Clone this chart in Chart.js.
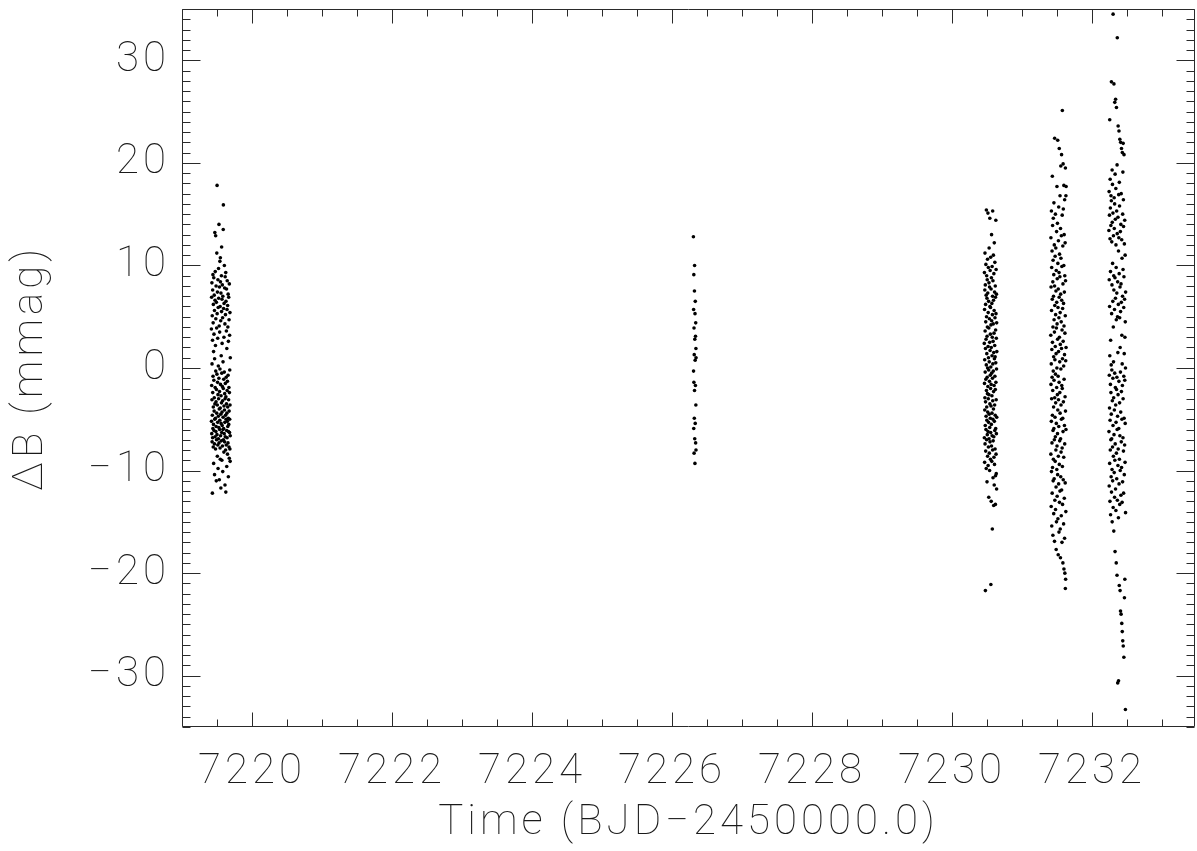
<!DOCTYPE html>
<html>
<head>
<meta charset="utf-8">
<script src="https://cdn.jsdelivr.net/npm/chart.js@4.4.1/dist/chart.umd.min.js"></script>
<style>
  html, body { margin: 0; padding: 0; background: #fff; }
  #wrap { width: 1197px; height: 851px; }
</style>
</head>
<body>
<div id="wrap"><canvas id="lc" width="1197" height="851"></canvas></div>
<script>
// [time (BJD-2450000), delta B (mmag)] per observing night
const night1 = [
  [7219.420,3.8],[7219.421,-5.2],[7219.423,6.9],[7219.424,-1.7],[7219.425,-6.4],[7219.427,8.3],[7219.428,-3.1],[7219.429,0.4],[7219.430,-7.2],[7219.432,5.1],
  [7219.433,-4.6],[7219.434,-12.2],[7219.436,2.7],[7219.437,-6.8],[7219.438,7.6],[7219.439,-2.4],[7219.441,-5.9],[7219.442,9.1],[7219.443,-0.8],[7219.445,4.4],
  [7219.446,-7.7],[7219.447,-3.8],[7219.448,6.2],[7219.450,-5.5],[7219.451,1.6],[7219.452,-9.3],[7219.454,8.8],[7219.455,-1.2],[7219.456,-6.1],[7219.457,3.3],
  [7219.459,-4.2],[7219.460,7.1],[7219.461,-2.9],[7219.463,-7.4],[7219.464,5.6],[7219.465,-10.4],[7219.466,0.9],[7219.468,-5.0],[7219.469,13.2],[7219.470,-3.5],
  [7219.472,6.6],[7219.473,-6.7],[7219.474,-1.9],[7219.475,9.4],[7219.477,-4.9],[7219.478,2.2],[7219.479,-7.9],[7219.481,12.9],[7219.482,-0.3],[7219.483,4.8],
  [7219.484,-6.2],[7219.486,-3.3],[7219.487,8.0],[7219.488,-5.7],[7219.490,-11.0],[7219.491,6.4],[7219.492,-2.1],[7219.493,-7.0],[7219.495,3.9],[7219.496,-4.4],
  [7219.497,11.2],[7219.499,-0.6],[7219.500,-6.5],[7219.501,17.8],[7219.502,5.3],[7219.504,-3.6],[7219.505,-8.6],[7219.506,7.4],[7219.508,-1.4],[7219.509,-5.3],
  [7219.510,2.9],[7219.511,-7.5],[7219.513,8.6],[7219.514,-2.6],[7219.515,-9.8],[7219.517,5.9],[7219.518,-4.7],[7219.519,0.2],[7219.520,-6.9],[7219.522,9.7],
  [7219.523,-3.0],[7219.524,6.8],[7219.526,-5.8],[7219.527,-1.0],[7219.528,14.0],[7219.529,-7.3],[7219.531,4.1],[7219.532,-4.0],[7219.533,-10.9],[7219.535,7.9],
  [7219.536,-2.3],[7219.537,-6.0],[7219.538,3.5],[7219.540,-5.1],[7219.541,10.4],[7219.542,-0.1],[7219.544,-7.8],[7219.545,6.0],[7219.546,-3.9],[7219.547,-8.9],
  [7219.549,8.4],[7219.550,-1.6],[7219.551,-6.6],[7219.553,4.6],[7219.554,-4.5],[7219.555,-11.7],[7219.556,7.3],[7219.558,-2.7],[7219.559,-5.4],[7219.560,1.2],
  [7219.562,-7.1],[7219.563,9.0],[7219.564,-3.4],[7219.565,5.5],[7219.567,-6.3],[7219.568,-0.5],[7219.569,-9.0],[7219.571,6.7],[7219.572,-4.3],[7219.573,2.4],
  [7219.574,-5.6],[7219.576,8.1],[7219.577,-1.8],[7219.578,-7.6],[7219.580,4.9],[7219.581,-3.2],[7219.582,-10.1],[7219.583,7.0],[7219.585,-6.0],[7219.586,0.6],
  [7219.587,-4.8],[7219.589,13.5],[7219.590,-2.0],[7219.591,15.9],[7219.592,-7.0],[7219.594,5.8],[7219.595,-5.9],[7219.596,-1.1],[7219.598,-8.2],[7219.599,3.0],
  [7219.600,-3.7],[7219.601,6.3],[7219.603,-6.4],[7219.604,-0.4],[7219.605,10.0],[7219.607,-4.1],[7219.608,-7.2],[7219.609,7.8],[7219.610,-2.5],[7219.612,-5.3],
  [7219.613,4.3],[7219.614,-11.4],[7219.616,-3.0],[7219.617,8.9],[7219.618,-6.7],[7219.619,-1.5],[7219.621,5.2],[7219.622,-4.6],[7219.623,-8.0],[7219.625,9.3],
  [7219.626,-12.1],[7219.627,-2.8],[7219.628,6.5],[7219.630,-5.0],[7219.631,-0.9],[7219.632,-7.5],[7219.634,3.6],[7219.635,-3.5],[7219.636,7.7],[7219.637,-6.1],
  [7219.639,-9.6],[7219.640,1.9],[7219.641,-4.4],[7219.643,5.7],[7219.644,-6.8],[7219.645,-2.2],[7219.646,8.5],[7219.648,-5.2],[7219.649,-1.3],[7219.650,-8.4],
  [7219.652,6.1],[7219.653,-3.8],[7219.654,-5.7],[7219.655,4.0],[7219.657,-7.3],[7219.658,-0.7],[7219.659,7.2],[7219.661,-4.9],[7219.662,-10.6],[7219.663,2.6],
  [7219.664,-6.2],[7219.666,-3.1],[7219.667,6.9],[7219.668,-5.5],[7219.670,-1.9],[7219.671,-7.7],[7219.672,4.7],[7219.673,-4.2],[7219.675,-8.8],[7219.676,8.2],
  [7219.677,-2.4],[7219.679,-6.3],[7219.680,3.2],[7219.681,-5.0],[7219.682,-0.2],[7219.684,-7.9],[7219.685,5.4],[7219.686,-3.6],[7219.688,-9.1],[7219.689,-6.6],
  [7219.690,1.0],[7219.548,10.75],[7219.566,11.8]
];

const night2 = [
  [7226.305,12.8],[7226.307,-0.3],[7226.308,5.7],[7226.310,-5.9],[7226.311,9.1],[7226.312,-1.4],[7226.314,3.9],[7226.315,-8.3],[7226.317,1.3],[7226.318,-4.9],
  [7226.320,7.5],[7226.321,-2.2],[7226.322,10.0],[7226.324,-6.9],[7226.325,2.8],[7226.327,-9.3],[7226.328,5.3],[7226.330,0.75],[7226.331,-5.4],[7226.332,6.5],
  [7226.334,-1.7],[7226.335,3.1],[7226.337,-7.3],[7226.338,4.4],[7226.340,-3.6],[7226.341,1.9],[7226.342,-8.0],[7226.343,1.0]
];

const night3 = [
  [7230.460,2.4],[7230.461,-6.8],[7230.462,9.3],[7230.463,-1.5],[7230.464,5.7],[7230.465,-9.2],[7230.466,0.8],[7230.467,-4.1],[7230.468,7.6],[7230.469,-2.9],
  [7230.470,11.2],[7230.471,-7.4],[7230.472,3.6],[7230.473,-0.4],[7230.474,-5.6],[7230.475,8.1],[7230.476,-21.7],[7230.477,1.9],[7230.478,-3.3],[7230.479,6.2],
  [7230.480,-8.1],[7230.481,4.5],[7230.482,-1.1],[7230.483,10.1],[7230.484,-6.0],[7230.485,2.8],[7230.486,-4.7],[7230.487,7.1],[7230.488,-9.8],[7230.489,0.3],
  [7230.490,15.4],[7230.491,-2.2],[7230.492,5.0],[7230.493,-7.0],[7230.494,9.0],[7230.495,-3.8],[7230.496,1.4],[7230.497,-5.1],[7230.498,6.8],[7230.499,-11.1],
  [7230.500,3.1],[7230.501,-0.9],[7230.502,8.6],[7230.503,-6.5],[7230.504,4.0],[7230.505,-2.5],[7230.506,10.6],[7230.507,-8.6],[7230.508,0.0],[7230.509,-4.3],
  [7230.510,7.3],[7230.511,-1.8],[7230.512,15.1],[7230.513,-6.2],[7230.514,2.1],[7230.515,-9.5],[7230.516,5.4],[7230.517,-3.0],[7230.518,9.8],[7230.519,-7.7],
  [7230.520,1.0],[7230.521,-5.3],[7230.522,6.5],[7230.523,-0.2],[7230.524,-12.6],[7230.525,3.9],[7230.526,-2.6],[7230.527,8.3],[7230.528,-6.9],[7230.529,11.7],
  [7230.530,-4.5],[7230.531,0.6],[7230.532,-8.3],[7230.533,4.8],[7230.534,-1.3],[7230.535,7.9],[7230.536,-10.0],[7230.537,2.5],[7230.538,-5.8],[7230.539,14.6],
  [7230.540,-3.5],[7230.541,6.0],[7230.542,-7.2],[7230.543,1.7],[7230.544,9.5],[7230.545,-0.7],[7230.546,-4.9],[7230.547,3.3],[7230.548,-8.9],[7230.549,5.9],
  [7230.550,-2.0],[7230.551,10.8],[7230.552,-6.3],[7230.553,0.1],[7230.554,-21.1],[7230.555,4.2],[7230.556,-3.7],[7230.557,7.7],[7230.558,-1.6],[7230.559,-13.0],
  [7230.560,2.0],[7230.561,-5.5],[7230.562,8.8],[7230.563,-7.6],[7230.564,13.0],[7230.565,-0.5],[7230.566,4.6],[7230.567,-9.1],[7230.568,6.3],[7230.569,-2.7],
  [7230.570,-4.4],[7230.571,1.2],[7230.572,9.9],[7230.573,-6.6],[7230.574,3.0],[7230.575,-15.7],[7230.576,5.2],[7230.577,-1.0],[7230.578,7.0],[7230.579,-8.0],
  [7230.580,15.3],[7230.581,-3.2],[7230.582,0.4],[7230.583,-5.0],[7230.584,8.5],[7230.585,-10.7],[7230.586,2.6],[7230.587,-7.1],[7230.588,4.3],[7230.589,-0.3],
  [7230.590,11.0],[7230.591,-4.0],[7230.592,6.6],[7230.593,-2.3],[7230.594,-13.4],[7230.595,1.5],[7230.596,-6.7],[7230.597,9.2],[7230.598,-8.7],[7230.599,3.4],
  [7230.600,-1.7],[7230.601,5.6],[7230.602,-11.4],[7230.603,12.2],[7230.604,-5.2],[7230.605,0.9],[7230.606,-9.4],[7230.607,7.4],[7230.608,-3.6],[7230.609,2.2],
  [7230.610,-6.1],[7230.611,10.3],[7230.612,-0.8],[7230.613,4.9],[7230.614,-7.9],[7230.615,1.1],[7230.616,-4.6],[7230.617,8.0],[7230.618,-2.1],[7230.619,-13.3],
  [7230.620,6.9],[7230.621,-10.5],[7230.622,3.7],[7230.623,-5.9],[7230.624,0.5],[7230.625,14.4],[7230.626,-1.4],[7230.627,5.3],[7230.628,-8.4],[7230.629,9.6],
  [7230.630,-3.1],[7230.631,-10.3],[7230.632,2.9],[7230.633,-6.4],[7230.634,7.2],[7230.635,-0.1],[7230.636,-11.8],[7230.637,4.4],[7230.638,-4.8],[7230.639,1.6]
];

const night4 = [
  [7231.410,3.2],[7231.411,-8.4],[7231.412,12.7],[7231.413,-1.6],[7231.414,7.9],[7231.416,-13.5],[7231.417,0.4],[7231.418,-5.2],[7231.419,15.3],[7231.420,-10.1],
  [7231.421,5.6],[7231.422,-3.0],[7231.423,9.8],[7231.424,-15.4],[7231.425,1.8],[7231.427,-7.3],[7231.428,11.4],[7231.429,-0.9],[7231.430,-12.2],[7231.431,6.7],
  [7231.432,18.7],[7231.433,-4.6],[7231.434,2.5],[7231.435,-9.7],[7231.436,13.9],[7231.438,-2.2],[7231.439,8.4],[7231.440,-16.3],[7231.441,4.0],[7231.442,-6.1],
  [7231.443,10.5],[7231.444,-11.0],[7231.445,-0.3],[7231.446,14.6],[7231.447,-8.9],[7231.449,7.0],[7231.450,-3.8],[7231.451,1.1],[7231.452,-14.2],[7231.453,9.1],
  [7231.454,-5.9],[7231.455,16.1],[7231.456,-1.2],[7231.457,4.7],[7231.458,-10.8],[7231.460,12.0],[7231.461,-7.0],[7231.462,3.5],[7231.463,-16.9],[7231.464,8.0],
  [7231.465,22.4],[7231.466,-2.9],[7231.467,6.1],[7231.468,-12.9],[7231.469,0.8],[7231.471,-4.8],[7231.472,10.9],[7231.473,-9.1],[7231.474,2.1],[7231.475,-6.7],
  [7231.476,15.0],[7231.477,-0.6],[7231.478,-13.8],[7231.479,5.2],[7231.480,-3.4],[7231.482,11.7],[7231.483,-8.0],[7231.484,7.5],[7231.485,-11.6],[7231.486,1.4],
  [7231.487,-17.7],[7231.488,9.5],[7231.489,-5.4],[7231.490,3.9],[7231.491,-15.0],[7231.493,13.3],[7231.494,-1.9],[7231.495,6.4],[7231.496,-9.9],[7231.497,0.0],
  [7231.498,17.7],[7231.499,-7.6],[7231.500,4.3],[7231.501,-12.5],[7231.502,8.7],[7231.504,-2.6],[7231.505,14.1],[7231.506,-6.4],[7231.507,2.8],[7231.508,-10.4],
  [7231.509,22.2],[7231.510,-4.1],[7231.511,10.2],[7231.512,-14.7],[7231.513,5.9],[7231.515,-0.8],[7231.516,-18.2],[7231.517,7.7],[7231.518,-8.6],[7231.519,12.4],
  [7231.520,-3.1],[7231.521,1.6],[7231.522,-11.3],[7231.523,15.7],[7231.524,-5.7],[7231.526,4.9],[7231.527,-16.0],[7231.528,9.3],[7231.529,-1.4],[7231.530,6.9],
  [7231.531,21.4],[7231.532,-9.4],[7231.533,3.0],[7231.534,-13.1],[7231.535,11.1],[7231.537,-7.1],[7231.538,0.6],[7231.539,-2.4],[7231.540,8.9],[7231.541,-12.0],
  [7231.542,16.8],[7231.543,-4.4],[7231.544,5.4],[7231.545,-15.7],[7231.546,2.3],[7231.548,-18.5],[7231.549,13.6],[7231.550,-6.9],[7231.551,7.2],[7231.552,-10.6],
  [7231.553,19.7],[7231.554,-0.1],[7231.555,10.7],[7231.556,-3.6],[7231.557,-8.2],[7231.559,4.5],[7231.560,-14.4],[7231.561,12.9],[7231.562,-5.0],[7231.563,1.9],
  [7231.564,20.8],[7231.565,-11.9],[7231.566,6.6],[7231.567,-1.7],[7231.568,9.9],[7231.570,-17.0],[7231.571,3.7],[7231.572,-7.8],[7231.573,14.9],[7231.574,-2.0],
  [7231.575,25.1],[7231.576,-9.6],[7231.577,0.9],[7231.578,-13.3],[7231.579,5.8],[7231.581,-4.9],[7231.582,11.9],[7231.583,-19.0],[7231.584,8.2],[7231.585,-6.2],
  [7231.586,19.9],[7231.587,2.6],[7231.588,-10.9],[7231.589,15.5],[7231.590,-3.3],[7231.592,6.3],[7231.593,-15.2],[7231.594,0.2],[7231.595,-8.7],[7231.596,10.0],
  [7231.597,17.8],[7231.598,-19.6],[7231.599,4.1],[7231.600,-1.1],[7231.601,13.0],[7231.603,-12.7],[7231.604,7.4],[7231.605,-5.6],[7231.606,1.3],[7231.607,-16.6],
  [7231.608,16.4],[7231.609,-7.4],[7231.610,9.0],[7231.611,-20.0],[7231.612,3.4],[7231.614,-2.8],[7231.615,12.2],[7231.616,-11.2],[7231.617,5.1],[7231.618,-21.5],
  [7231.619,19.5],[7231.620,-4.2],[7231.621,8.5],[7231.622,-20.6],[7231.623,0.7],[7231.625,-14.0],[7231.626,16.8],[7231.627,-6.0],[7231.628,2.0],[7231.629,17.7]
];

const night5 = [
  [7232.240,13.4],[7232.241,-6.2],[7232.243,17.2],[7232.244,-11.5],[7232.245,8.6],[7232.246,-0.7],[7232.248,14.9],[7232.249,-3.9],[7232.250,6.0],[7232.251,-9.3],
  [7232.252,24.2],[7232.253,1.2],[7232.255,-13.0],[7232.256,12.6],[7232.257,-5.1],[7232.258,18.4],[7232.260,-8.0],[7232.261,15.6],[7232.262,-1.6],[7232.263,9.4],
  [7232.264,-14.3],[7232.265,2.7],[7232.267,-7.0],[7232.268,13.9],[7232.269,-2.4],[7232.270,16.8],[7232.272,-10.6],[7232.273,0.3],[7232.274,-4.5],[7232.275,16.3],
  [7232.276,27.9],[7232.277,-12.1],[7232.279,5.3],[7232.280,-6.9],[7232.281,12.3],[7232.282,-0.2],[7232.284,8.1],[7232.285,-9.9],[7232.286,19.3],[7232.287,-15.0],
  [7232.288,14.2],[7232.289,-3.2],[7232.291,17.9],[7232.292,-7.7],[7232.293,10.2],[7232.294,-11.0],[7232.296,6.5],[7232.297,-1.0],[7232.298,15.1],[7232.299,-5.6],
  [7232.300,34.5],[7232.301,-13.6],[7232.303,4.0],[7232.304,-8.6],[7232.305,12.9],[7232.306,0.6],[7232.308,-2.9],[7232.309,9.0],[7232.310,-15.9],[7232.311,7.6],
  [7232.312,27.7],[7232.313,-6.5],[7232.315,16.6],[7232.316,-10.2],[7232.317,13.6],[7232.318,-4.1],[7232.320,5.7],[7232.321,-12.6],[7232.322,16.0],[7232.323,-0.5],
  [7232.324,25.9],[7232.325,-9.0],[7232.327,8.8],[7232.328,-17.9],[7232.329,18.9],[7232.330,-7.4],[7232.332,14.5],[7232.333,-1.9],[7232.334,6.8],[7232.335,-11.8],
  [7232.336,26.2],[7232.337,-3.6],[7232.339,17.5],[7232.340,-13.9],[7232.341,12.0],[7232.342,-5.3],[7232.344,9.8],[7232.345,-19.0],[7232.346,4.7],[7232.347,-8.3],
  [7232.348,25.4],[7232.349,-2.1],[7232.351,15.3],[7232.352,-10.8],[7232.353,7.3],[7232.354,-0.9],[7232.356,-20.2],[7232.357,19.8],[7232.358,-6.0],[7232.359,13.1],
  [7232.360,32.2],[7232.361,-12.9],[7232.363,5.0],[7232.364,-4.7],[7232.365,8.4],[7232.366,-30.7],[7232.368,1.5],[7232.369,-9.5],[7232.370,14.7],[7232.371,-2.6],
  [7232.372,23.6],[7232.373,-7.9],[7232.375,6.2],[7232.376,-14.6],[7232.377,11.4],[7232.378,-30.5],[7232.380,16.9],[7232.381,-5.9],[7232.382,12.7],[7232.383,-1.3],
  [7232.384,23.1],[7232.385,-11.3],[7232.387,9.2],[7232.388,-21.2],[7232.389,18.1],[7232.390,-8.9],[7232.392,15.8],[7232.393,-3.4],[7232.394,4.9],[7232.395,-13.3],
  [7232.396,22.3],[7232.397,-6.6],[7232.399,7.9],[7232.400,-21.7],[7232.401,2.0],[7232.402,-10.0],[7232.404,13.3],[7232.405,-0.4],[7232.406,-23.7],[7232.407,5.5],
  [7232.408,22.0],[7232.409,-4.3],[7232.411,14.0],[7232.412,-12.4],[7232.413,8.2],[7232.414,-24.0],[7232.416,17.0],[7232.417,-7.2],[7232.418,6.4],[7232.419,-2.3],
  [7232.420,21.4],[7232.421,-9.7],[7232.423,12.5],[7232.424,-24.9],[7232.425,3.2],[7232.426,-5.0],[7232.428,10.7],[7232.429,-13.1],[7232.430,0.4],[7232.431,-25.7],
  [7232.432,21.0],[7232.433,-1.7],[7232.435,7.0],[7232.436,-11.1],[7232.437,15.0],[7232.438,-26.6],[7232.440,19.1],[7232.441,-6.8],[7232.442,9.6],[7232.443,-3.0],
  [7232.444,21.9],[7232.445,-27.1],[7232.447,16.4],[7232.448,-8.1],[7232.449,13.8],[7232.450,-12.2],[7232.452,5.9],[7232.453,-0.8],[7232.454,-28.2],[7232.455,8.9],
  [7232.456,20.8],[7232.457,-4.9],[7232.459,1.4],[7232.460,-10.4],[7232.461,12.1],[7232.462,-22.4],[7232.464,6.7],[7232.465,-7.5],[7232.466,14.4],[7232.467,-1.2],
  [7232.468,-20.6],[7232.469,3.0],[7232.471,-9.2],[7232.472,11.0],[7232.473,-5.4],[7232.474,4.5],[7232.476,-33.3],[7232.477,0.0],[7232.478,-14.1],[7232.479,7.4]
];

const nights = [night1, night2, night3, night4, night5];

// axis ranges, labelled ticks and minor tick steps
const xRange = [7219.0, 7233.47];
const yRange = [-35, 35];
const xTickValues = [7220, 7222, 7224, 7226, 7228, 7230, 7232];
const yTickValues = [-30, -20, -10, 0, 10, 20, 30];
const xMinor = 0.5;
const yMinor = 1;

const fontFamily = 'Roboto, "Liberation Sans", sans-serif';
const inkColor = '#1a1a1a';
const minus = s => String(s).replace('-', '\u2212');

const isMajor = (v, list) => list.some(t => Math.abs(t - v) < 1e-6);

// box with inward ticks on every side, like the IDL plot
const framePlugin = {
  id: 'frame',
  beforeDraw(chart) {
    // the vector font of the original is spaced wider than Roboto
    chart.ctx.letterSpacing = '4px';
  },
  afterDatasetsDraw(chart) {
    const { ctx, chartArea: a, scales: { x, y } } = chart;
    const L = Math.round(a.left) + 0.5, R = Math.round(a.right) - 0.5;
    const T = Math.round(a.top) + 0.5, B = Math.round(a.bottom) - 0.5;
    ctx.save();
    ctx.strokeStyle = '#2a2a2a';
    ctx.lineWidth = 1;
    ctx.beginPath();
    ctx.rect(L, T, R - L, B - T);
    const i0 = Math.ceil(x.min / xMinor - 1e-6), i1 = Math.floor(x.max / xMinor + 1e-6);
    for (let i = i0; i <= i1; i++) {
      const v = i * xMinor;
      const len = isMajor(v, xTickValues) ? 14 : 7;
      const px = Math.round(x.getPixelForValue(v)) + 0.5;
      ctx.moveTo(px, B); ctx.lineTo(px, B - len);
      ctx.moveTo(px, T); ctx.lineTo(px, T + len);
    }
    const j0 = Math.ceil(y.min / yMinor - 1e-6), j1 = Math.floor(y.max / yMinor + 1e-6);
    for (let j = j0; j <= j1; j++) {
      const v = j * yMinor;
      const len = isMajor(v, yTickValues) ? 18 : 8;
      const py = Math.round(y.getPixelForValue(v)) + 0.5;
      ctx.moveTo(L, py); ctx.lineTo(L + len, py);
      ctx.moveTo(R, py); ctx.lineTo(R - len, py);
    }
    ctx.stroke();
    ctx.restore();
  }
};

const datasets = nights.map(n => ({
  data: n.map(p => ({ x: p[0], y: p[1] })),
  pointRadius: 1.8,
  pointHoverRadius: 1.8,
  pointBackgroundColor: '#000',
  pointBorderWidth: 0,
  showLine: false
}));

const tickFont = { family: fontFamily, size: 42, weight: 100 };

new Chart(document.getElementById('lc'), {
  type: 'scatter',
  data: { datasets },
  options: {
    responsive: false,
    devicePixelRatio: 1,
    animation: false,
    layout: { padding: { top: 9, right: 2, left: 0, bottom: 0 } },
    plugins: { legend: { display: false }, tooltip: { enabled: false } },
    scales: {
      x: {
        type: 'linear',
        min: xRange[0],
        max: xRange[1],
        grid: { display: false, drawTicks: false },
        border: { display: false },
        afterBuildTicks: s => { s.ticks = xTickValues.map(v => ({ value: v })); },
        ticks: {
          maxRotation: 0,
          autoSkip: false,
          padding: 20,
          color: inkColor,
          font: tickFont,
          callback: v => minus(v)
        },
        title: {
          display: true,
          text: 'Time (BJD\u22122450000.0)',
          color: inkColor,
          font: tickFont,
          padding: { top: 0, bottom: 2 }
        },
        afterFit: s => {
          s.height = 124;
          s.paddingLeft = 0;
          s.paddingRight = 0;
        }
      },
      y: {
        min: yRange[0],
        max: yRange[1],
        grid: { display: false, drawTicks: false },
        border: { display: false },
        afterBuildTicks: s => { s.ticks = yTickValues.map(v => ({ value: v })); },
        ticks: {
          padding: 12,
          color: inkColor,
          font: tickFont,
          callback: v => minus(v)
        },
        title: {
          display: true,
          text: '\u0394B (mmag)',
          color: inkColor,
          font: tickFont,
          padding: { top: 6, bottom: 0 }
        },
        afterFit: s => {
          s.width = 182;
          s.paddingTop = 0;
          s.paddingBottom = 0;
        }
      }
    }
  },
  plugins: [framePlugin]
});
</script>
</body>
</html>
